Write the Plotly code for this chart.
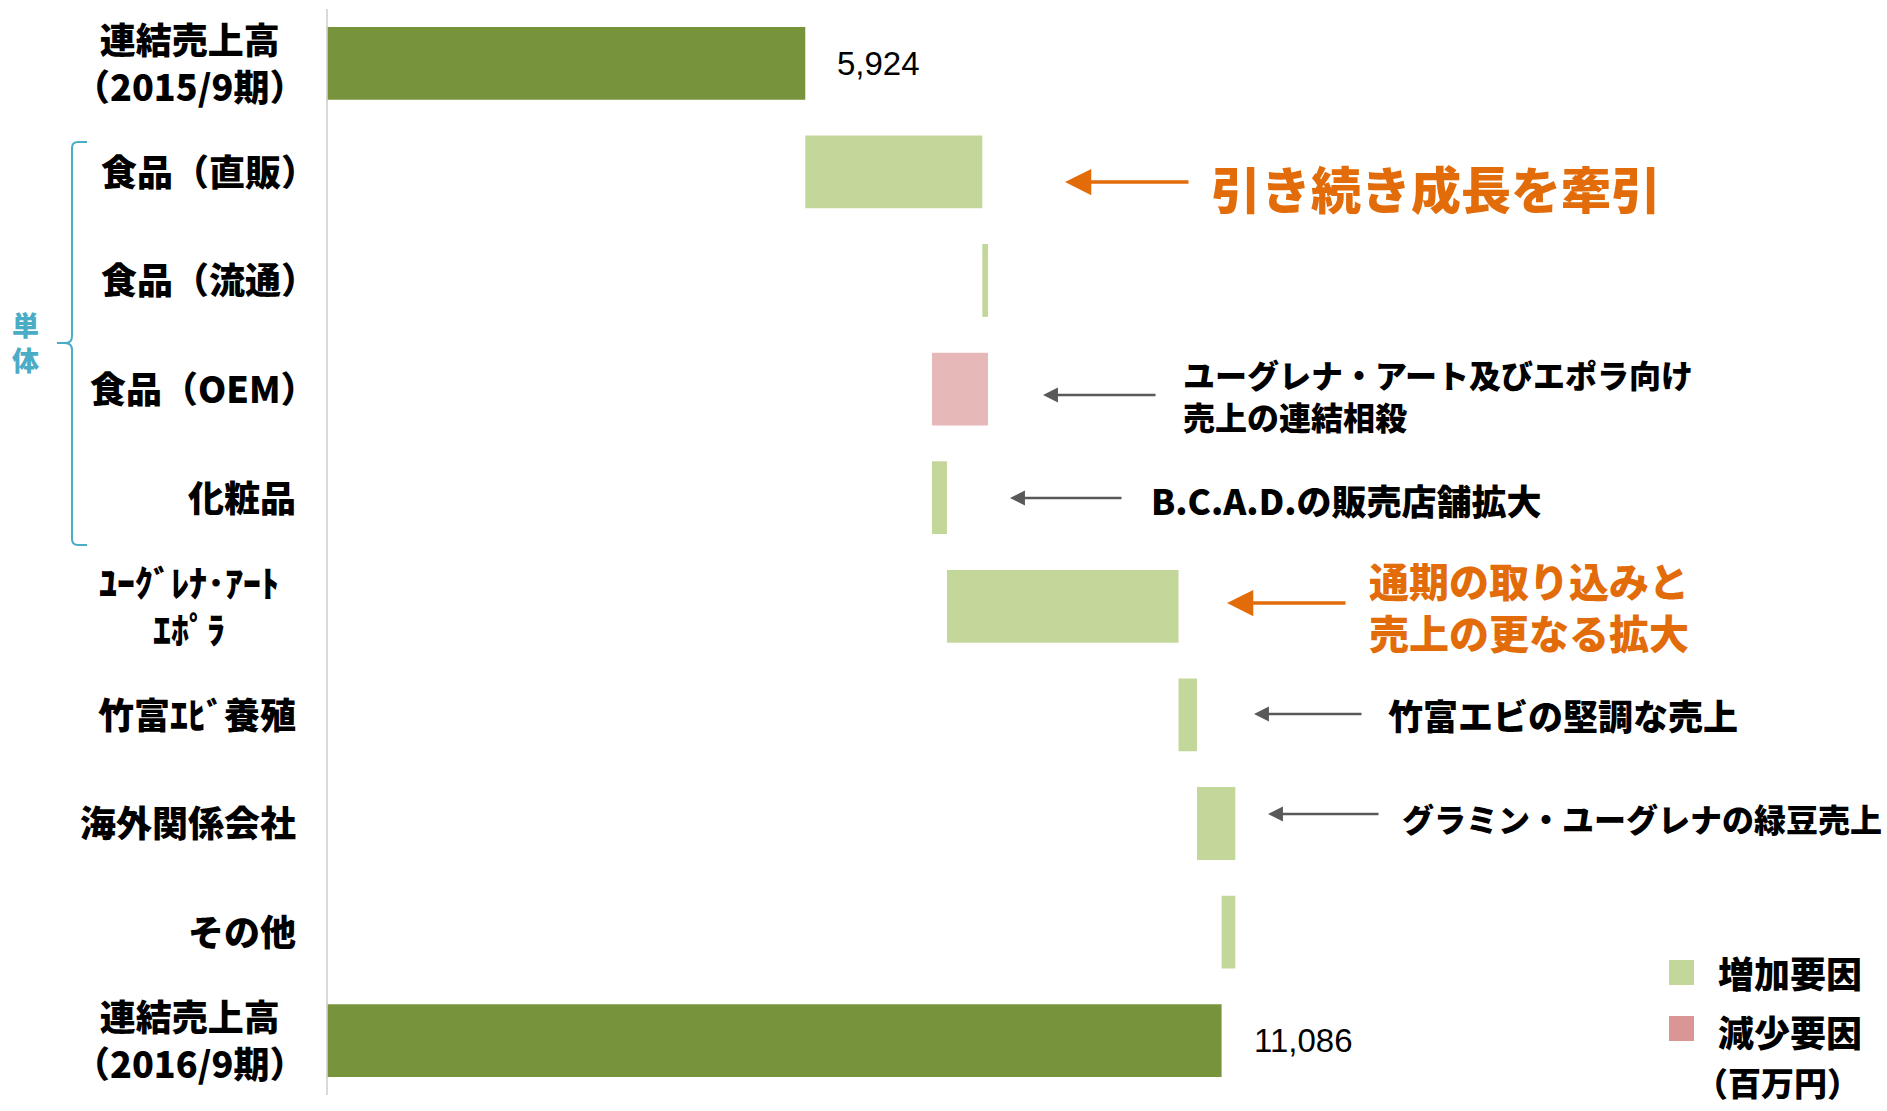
import plotly.graph_objects as go

# ---- data (百万円) ----
categories = [
    "連結売上高<br>（2015/9期）",
    "食品（直販）",
    "食品（流通）",
    "食品（OEM）",
    "化粧品",
    "ﾕｰｸﾞﾚﾅ･ｱｰﾄ<br>ｴﾎﾟﾗ",
    "竹富ｴﾋﾞ養殖",
    "海外関係会社",
    "その他",
    "連結売上高<br>（2016/9期）",
]
opening_total = 5924
closing_total = 11086
changes = [2195, 71, -695, 186, 2871, 229, 475, -170]
change_kinds = ["増加要因", "増加要因", "減少要因", "増加要因",
                "増加要因", "増加要因", "増加要因", "増加要因"]
legend_items = ["増加要因", "減少要因"]
unit_label = "（百万円）"
group_label = "単<br>体"

notes = [
    "引き続き成長を牽引",
    "ユーグレナ・アート及びエポラ向け<br>売上の連結相殺",
    "B.C.A.D.の販売店舗拡大",
    "通期の取り込みと<br>売上の更なる拡大",
    "竹富エビの堅調な売上",
    "グラミン・ユーグレナの緑豆売上",
]

# ---- page geometry ----
W, H = 1887, 1111
PLOT_L, PLOT_T, PLOT_B = 327.5, 9, 1095
PX_PER_UNIT = 0.08065
x_max = (W - PLOT_L) / PX_PER_UNIT


def fx(px):
    return px / W


def fy(py):
    return 1 - py / H


JP = "Noto Sans CJK JP"
COLOR_TOTAL = "#77933C"
COLOR_UP = "#C4D79B"
COLOR_DOWN = "#E6B8B7"
ORANGE = "#E36C0A"
GRAY = "#595959"
BLUE = "#4BACC6"

# ---- waterfall segments ----
bases, lengths, colors = [0], [opening_total], [COLOR_TOTAL]
running = opening_total
for d, kind in zip(changes, change_kinds):
    bases.append(min(running, running + d))
    lengths.append(abs(d))
    colors.append(COLOR_UP if kind == "増加要因" else COLOR_DOWN)
    running += d
bases.append(0)
lengths.append(closing_total)
colors.append(COLOR_TOTAL)

fig = go.Figure(
    go.Bar(
        y=categories,
        x=lengths,
        base=bases,
        orientation="h",
        width=0.67,
        marker=dict(color=colors, line=dict(width=0)),
        hoverinfo="skip",
    )
)

annotations = []

# category labels: two-line labels are centred as a block,
# single-line labels are right-aligned next to the axis
label_font = dict(family=JP, size=36, color="#000000", weight=900)
for cat in categories:
    if "<br>" in cat:
        pos = dict(x=fx(189), xanchor="center")
    elif cat.endswith("）"):
        # full-width closing paren carries blank space on its right
        pos = dict(x=fx(319), xanchor="right")
    else:
        pos = dict(x=fx(298), xanchor="right")
    annotations.append(dict(
        xref="paper", y=cat, yref="y", yanchor="middle", yshift=2,
        text=cat, align="center", showarrow=False, font=label_font, **pos,
    ))

# totals
for cat, v in [(categories[0], opening_total), (categories[-1], closing_total)]:
    annotations.append(dict(
        x=v, xref="x", xanchor="left", xshift=30,
        y=cat, yref="y", yanchor="middle",
        text=f"{v:,}", showarrow=False,
        font=dict(family="Liberation Sans", size=33, color="#000000"),
    ))

# call-out arrows: (tip x, tail x, y, colour, line width, head size)
arrows = [
    (1065, 1190, 182, ORANGE, 3.5, 1.5),
    (1043, 1157, 395, GRAY, 2.3, 1.3),
    (1010, 1123, 498, GRAY, 2.3, 1.3),
    (1227, 1347, 603, ORANGE, 3.5, 1.5),
    (1254, 1363, 714, GRAY, 2.3, 1.3),
    (1268, 1380, 814, GRAY, 2.3, 1.3),
]
for tip, tail, y, col, lw, hs in arrows:
    annotations.append(dict(
        x=fx(tip), y=fy(y), xref="paper", yref="paper",
        ax=tail - tip, ay=0, axref="pixel", ayref="pixel",
        text="", showarrow=True, arrowhead=2, arrowsize=hs,
        arrowwidth=lw, arrowcolor=col, standoff=0, startstandoff=0,
    ))

# call-out texts: (left x, centre y, size, colour)
note_style = [
    (1209, 187, 50, ORANGE),
    (1181, 395, 32, "#000000"),
    (1149, 499, 35, "#000000"),
    (1367, 606, 40, ORANGE),
    (1386, 714, 35, "#000000"),
    (1400, 818, 32, "#000000"),
]
for txt, (x, y, size, col) in zip(notes, note_style):
    annotations.append(dict(
        x=fx(x), y=fy(y), xref="paper", yref="paper",
        xanchor="left", yanchor="middle", align="left",
        text=txt, showarrow=False,
        font=dict(family=JP, size=size, color=col, weight=900),
    ))

# 単体 bracket label
annotations.append(dict(
    x=fx(25), y=fy(342), xref="paper", yref="paper",
    xanchor="center", yanchor="middle", align="center",
    text=group_label, showarrow=False,
    font=dict(family=JP, size=27, color=BLUE, weight=900),
))

# legend texts
for label, y in zip(legend_items, [972, 1031]):
    annotations.append(dict(
        x=fx(1716), y=fy(y), xref="paper", yref="paper",
        xanchor="left", yanchor="middle", text=label, showarrow=False,
        font=dict(family=JP, size=36, color="#000000", weight=900),
    ))
annotations.append(dict(
    x=fx(1777), y=fy(1082), xref="paper", yref="paper",
    xanchor="center", yanchor="middle", text=unit_label, showarrow=False,
    font=dict(family=JP, size=33, color="#000000", weight=900),
))

shapes = []
# curly bracket grouping the non-consolidated rows
p = lambda x, y: f"{fx(x)},{fy(y)}"
bracket = (
    f"M {p(87, 142)} L {p(78, 142)} Q {p(72, 142)} {p(72, 148)} "
    f"L {p(72, 336)} Q {p(72, 343)} {p(65, 343)} L {p(57, 343)} "
    f"M {p(65, 343)} Q {p(72, 343)} {p(72, 350)} "
    f"L {p(72, 539)} Q {p(72, 545)} {p(78, 545)} L {p(87, 545)}"
)
shapes.append(dict(type="path", xref="paper", yref="paper", path=bracket,
                   line=dict(color=BLUE, width=2)))

# legend swatches
for col, (y0, y1) in zip([COLOR_UP, "#D99694"], [(960, 985), (1016, 1041)]):
    shapes.append(dict(type="rect", xref="paper", yref="paper",
                       x0=fx(1669), x1=fx(1694), y0=fy(y1), y1=fy(y0),
                       fillcolor=col, line=dict(width=0)))

fig.update_layout(
    width=W, height=H,
    margin=dict(l=0, r=0, t=0, b=0),
    paper_bgcolor="white", plot_bgcolor="white",
    showlegend=False,
    xaxis=dict(domain=[fx(PLOT_L), 1], range=[0, x_max], visible=False,
               fixedrange=True),
    yaxis=dict(domain=[fy(PLOT_B), fy(PLOT_T)], type="category",
               range=[len(categories) - 0.5, -0.5],
               showticklabels=False, ticks="", showgrid=False, zeroline=False,
               showline=True, linecolor="#D9D9D9", linewidth=2,
               layer="below traces", fixedrange=True),
    annotations=annotations,
    shapes=shapes,
)

fig.write_html("out.html")
